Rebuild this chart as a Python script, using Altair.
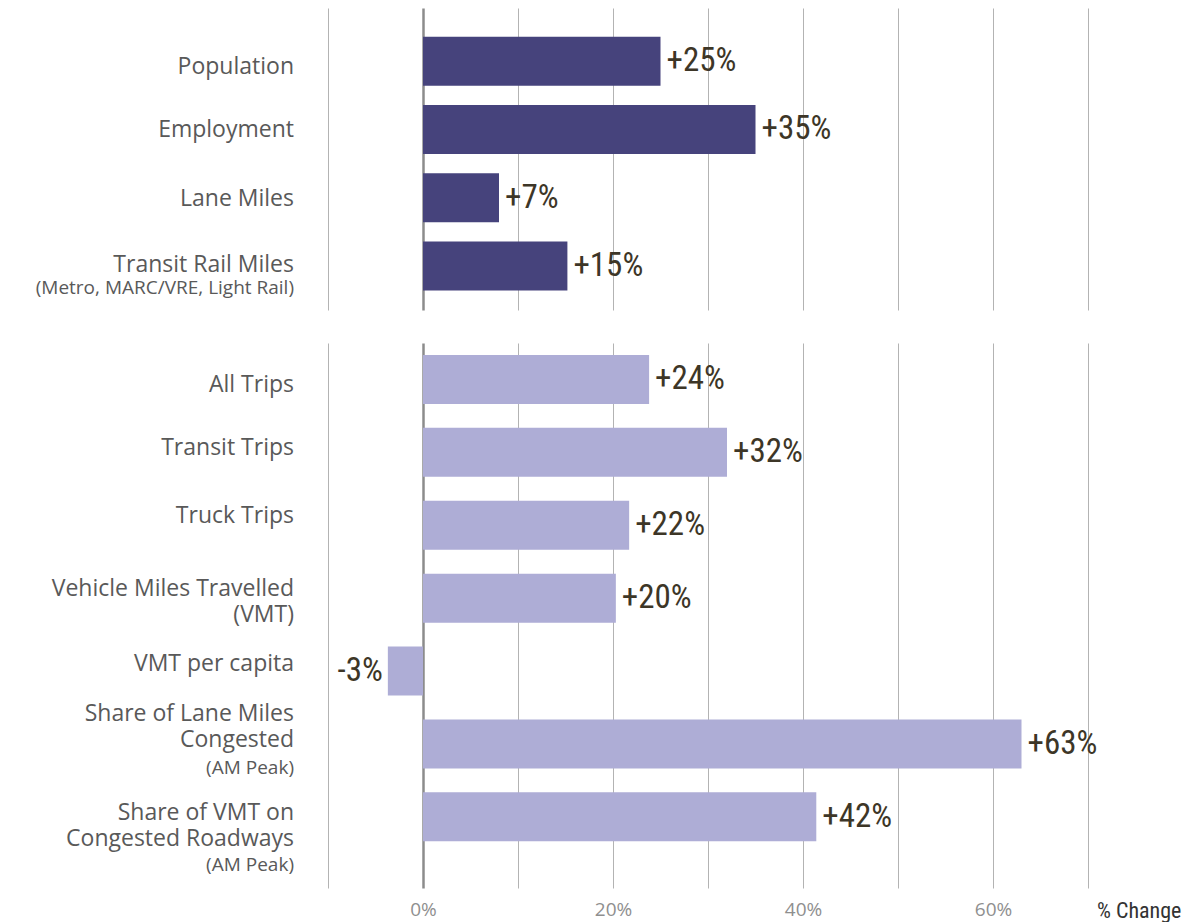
import altair as alt
import pandas as pd

# ---------------- data ----------------
top_categories = ["Population", "Employment", "Lane Miles", "Transit Rail Miles"]
top_values = [25.0, 35.0, 8.0, 15.2]
top_labels = ["+25%", "+35%", "+7%", "+15%"]

bottom_categories = ["All Trips", "Transit Trips", "Truck Trips",
                     "Vehicle Miles Travelled", "VMT per capita",
                     "Share of Lane Miles Congested",
                     "Share of VMT on Congested Roadways"]
bottom_values = [23.8, 32.0, 21.7, 20.3, -3.7, 63.0, 41.4]
bottom_labels = ["+24%", "+32%", "+22%", "+20%", "-3%", "+63%", "+42%"]

# category -> list of (line text, kind)
label_lines = {
    "Population": [("Population", "main")],
    "Employment": [("Employment", "main")],
    "Lane Miles": [("Lane Miles", "main")],
    "Transit Rail Miles": [("Transit Rail Miles", "main"),
                           ("(Metro, MARC/VRE, Light Rail)", "sub")],
    "All Trips": [("All Trips", "main")],
    "Transit Trips": [("Transit Trips", "main")],
    "Truck Trips": [("Truck Trips", "main")],
    "Vehicle Miles Travelled": [("Vehicle Miles Travelled", "main"), ("(VMT)", "main")],
    "VMT per capita": [("VMT per capita", "main")],
    "Share of Lane Miles Congested": [("Share of Lane Miles", "main"),
                                      ("Congested", "main"), ("(AM Peak)", "sub")],
    "Share of VMT on Congested Roadways": [("Share of VMT on", "main"),
                                           ("Congested Roadways", "main"), ("(AM Peak)", "sub")],
}

x_ticks = [-10, 0, 10, 20, 30, 40, 50, 60, 70]
shown_ticks = [0, 20, 40, 60]
axis_note = "% Change"

# ---------------- styling (vertical offsets of label lines, px) ----------------
line_dy = {
    "Population": [6],
    "Employment": [1],
    "Lane Miles": [1],
    "Transit Rail Miles": [-1, 22],
    "All Trips": [6],
    "Transit Trips": [-4],
    "Truck Trips": [-9],
    "Vehicle Miles Travelled": [-9, 17],
    "VMT per capita": [-7],
    "Share of Lane Miles Congested": [-30, -4, 24],
    "Share of VMT on Congested Roadways": [-4, 22, 48],
}
LABEL_FONT = "Open Sans"
VALUE_FONT = "Liberation Sans Narrow, Roboto Condensed, DejaVu Sans Condensed, Roboto, sans-serif"
PLOT_W = 760

grid_color = {"condition": {"test": "datum.value === 0", "value": "#8c8c8c"}, "value": "#b3b3b3"}
grid_width = {"condition": {"test": "datum.value === 0", "value": 2.5}, "value": 1}


def panel(cats, vals, texts, color, height, pad_outer, align, bottom):
    df = pd.DataFrame({"category": cats, "value": vals, "label": texts})
    rows = []
    for c in cats:
        for i, (t, k) in enumerate(label_lines[c]):
            rows.append({"category": c, "text": t, "kind": k, "idx": i,
                         "n": len(label_lines[c])})
    ldf = pd.DataFrame(rows)

    yscale = alt.Scale(domain=cats, paddingInner=0, paddingOuter=pad_outer, align=align)
    y = alt.Y("category:N", scale=yscale, axis=None)
    xscale = alt.Scale(domain=[-10, 70], nice=False, zero=False)
    if bottom:
        expr = "indexof([" + ",".join(str(v) for v in shown_ticks) + "], datum.value) >= 0 ? datum.value + '%' : ''"
        xaxis = alt.Axis(values=x_ticks, labelExpr=expr, ticks=False, tickSize=0, domain=False,
                         title=None, grid=True, gridColor=grid_color, gridWidth=grid_width,
                         labelFont=LABEL_FONT, labelFontSize=19, labelColor="#8f8f8f",
                         labelPadding=12)
    else:
        xaxis = alt.Axis(values=x_ticks, labels=False, ticks=False, domain=False,
                         title=None, grid=True, gridColor=grid_color, gridWidth=grid_width)

    bars = alt.Chart(df).mark_bar(size=49, color=color).encode(
        x=alt.X("value:Q", scale=xscale, axis=xaxis), y=y)
    pos = alt.Chart(df).transform_filter("datum.value >= 0").mark_text(
        align="left", baseline="middle", dx=6, font=VALUE_FONT, fontSize=33, color="#3d3627"
    ).encode(x=alt.X("value:Q", scale=xscale), y=y, text="label:N")
    neg = alt.Chart(df).transform_filter("datum.value < 0").mark_text(
        align="right", baseline="middle", dx=-5, font=VALUE_FONT, fontSize=33, color="#3d3627"
    ).encode(x=alt.X("value:Q", scale=xscale), y=y, text="label:N")

    layers = [bars, pos, neg]
    for c in cats:
        for i, dy in enumerate(line_dy[c]):
            kind = label_lines[c][i][1]
            layers.append(alt.Chart(ldf).transform_filter(
                (alt.datum.category == c) & (alt.datum.idx == i)).mark_text(
                align="right", baseline="middle", dy=dy, font=LABEL_FONT,
                fontSize=23 if kind == "main" else 19, color="#595959"
            ).encode(x=alt.value(-34), y=y, text="text:N"))
    # invisible left anchor to keep plot areas aligned
    layers.append(alt.Chart(pd.DataFrame({"a": [0]})).mark_rule(strokeOpacity=0).encode(
        x=alt.value(-320), y=alt.value(0), y2=alt.value(10)))
    if bottom:
        layers.append(alt.Chart(pd.DataFrame({"t": [axis_note]})).mark_text(
            align="left", baseline="middle", font=VALUE_FONT, fontSize=22, color="#333333"
        ).encode(x=alt.value(PLOT_W + 9), y=alt.value(height + 23), text="t:N"))
    return alt.layer(*layers).properties(width=PLOT_W, height=height)


top = panel(top_categories, top_values, top_labels, "#46437c", 302, 0.212, 0.66, False)
bot = panel(bottom_categories, bottom_values, bottom_labels, "#aeadd6", 545, 0.238, 0.0, True)

chart = alt.vconcat(top, bot, spacing=33).properties(
    padding={"left": 0, "top": 0, "right": 0, "bottom": 0}
).configure_view(stroke=None)

chart.save("out.html", embed_options={"renderer": "svg", "actions": False})
